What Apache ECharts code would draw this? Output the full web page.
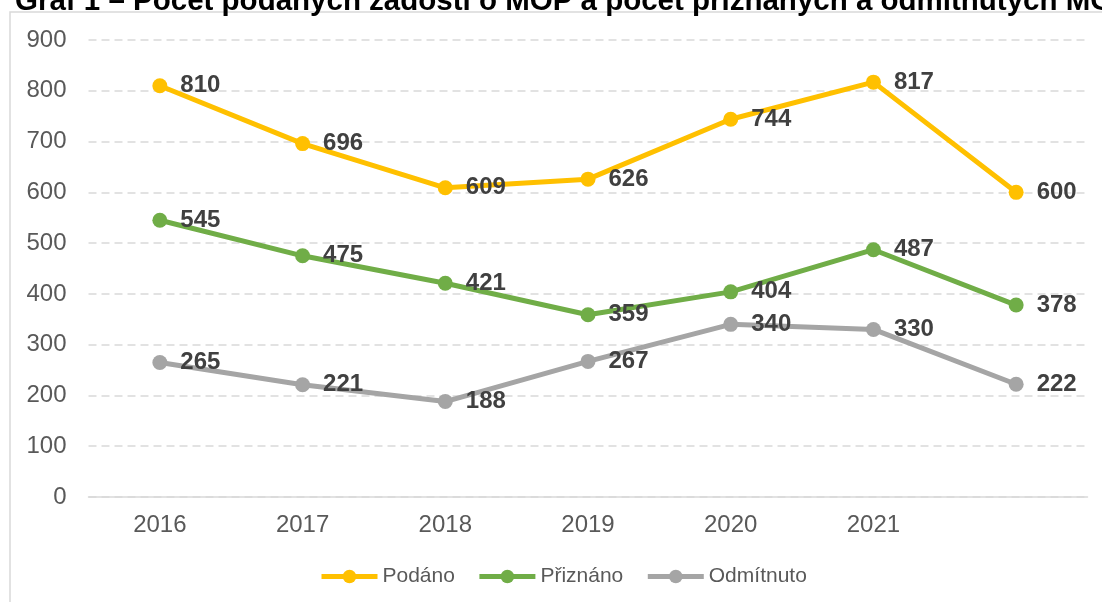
<!DOCTYPE html>
<html>
<head>
<meta charset="utf-8">
<script src="https://cdn.jsdelivr.net/npm/echarts@6/dist/echarts.min.js"></script>
<style>html,body{margin:0;padding:0;background:#fff;}#c{width:1102px;height:602px;}</style>
</head>
<body>
<div id="c"></div>
<script>
const titleText = 'Graf 1 – Počet podaných žádostí o MOP a počet přiznaných a odmítnutých MOP';
const categories = ['2016', '2017', '2018', '2019', '2020', '2021', ''];
const seriesNames = ['Podáno', 'Přiznáno', 'Odmítnuto'];
const podano = [810, 696, 609, 626, 744, 817, 600];
const priznano = [545, 475, 421, 359, 404, 487, 378];
const odmitnuto = [265, 221, 188, 267, 340, 330, 222];
const yTicks = { min: 0, max: 900, interval: 100 };
const colors = ['#FFC000', '#70AD47', '#A5A5A5'];

const font = 'Liberation Sans, Arial, sans-serif';
function mkSeries(name, data, color) {
  return {
    name: name, type: 'line', data: data,
    symbol: 'circle', symbolSize: 15,
    lineStyle: { width: 5, color: color },
    itemStyle: { color: color },
    label: { show: true, position: 'right', distance: 13, fontFamily: font, fontSize: 24, fontWeight: 'bold', color: '#404040' },
    emphasis: { disabled: true },
    animation: false
  };
}
const chart = echarts.init(document.getElementById('c'), null, { renderer: 'canvas' });
chart.setOption({
  backgroundColor: '#ffffff',
  animation: false,
  textStyle: { fontFamily: font },
  graphic: [
    { type: 'rect', z: -1, shape: { x: 10, y: 12, width: 1200, height: 700 }, style: { fill: 'none', stroke: '#d9d9d9', lineWidth: 1.5 } },
    { type: 'text', x: 15, y: -13, style: { text: titleText, font: 'bold 29.5px Liberation Sans, Arial, sans-serif', fill: '#000', textVerticalAlign: 'top' } }
  ],
  grid: { left: 88.5, right: 14.5, top: 40, bottom: 105, containLabel: false },
  legend: {
    left: 314, top: 561,
    itemWidth: 56, itemHeight: 17, itemGap: 22,
    lineStyle: { width: 5 },
    textStyle: { fontFamily: font, fontSize: 21, color: '#595959' },
    data: seriesNames
  },
  xAxis: {
    type: 'category', data: categories, boundaryGap: true,
    axisLine: { lineStyle: { color: '#d9d9d9', width: 1.5 } },
    axisTick: { show: false },
    axisLabel: { fontFamily: font, fontSize: 24, color: '#595959', margin: 16 }
  },
  yAxis: {
    type: 'value', min: yTicks.min, max: yTicks.max, interval: yTicks.interval,
    axisLine: { show: false }, axisTick: { show: false },
    axisLabel: { fontFamily: font, fontSize: 24, color: '#595959', margin: 22 },
    splitLine: { lineStyle: { color: '#d9d9d9', width: 1.5, type: [8, 5] } }
  },
  series: [
    mkSeries(seriesNames[0], podano, colors[0]),
    mkSeries(seriesNames[1], priznano, colors[1]),
    mkSeries(seriesNames[2], odmitnuto, colors[2])
  ]
});
</script>
</body>
</html>
